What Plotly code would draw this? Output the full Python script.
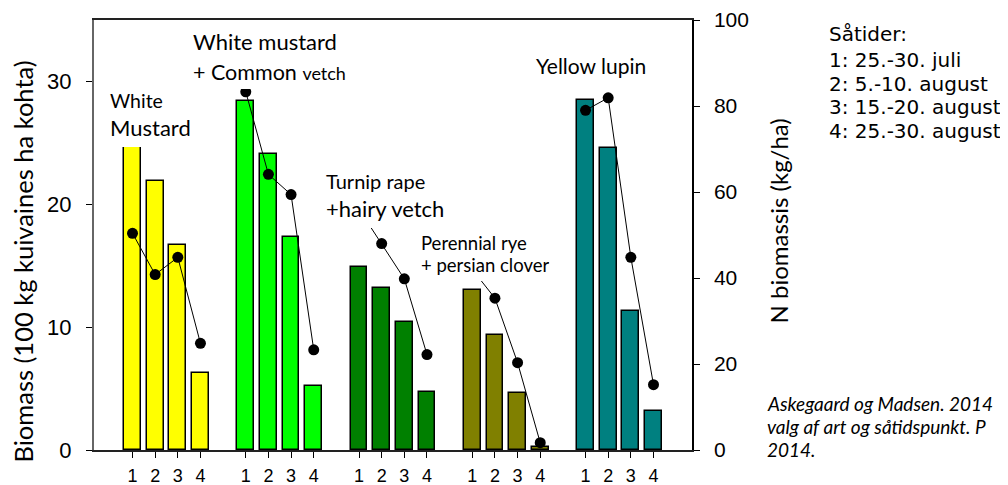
import plotly.graph_objects as go

# ---------------- data ----------------
sowing_labels = ["1", "2", "3", "4"]
group_names = ["White Mustard", "White mustard + Common vetch", "Turnip rape + hairy vetch",
               "Perennial rye + persian clover", "Yellow lupin"]
group_colors = ["#FFFF00", "#00FF00", "#008000", "#808000", "#008080"]

# biomass (100 kg kuivaines ha kohta), left axis
biomass_white_mustard = [26.0, 21.9, 16.7, 6.3]
biomass_mustard_vetch = [28.4, 24.1, 17.3, 5.2]
biomass_turnip_vetch = [14.9, 13.2, 10.4, 4.7]
biomass_rye_clover = [13.0, 9.4, 4.6, 0.25]
biomass_yellow_lupin = [28.5, 24.6, 11.3, 3.15]

# N biomassis (kg/ha), right axis
n_white_mustard = [50.4, 40.8, 44.8, 24.8]
n_mustard_vetch = [83.3, 64.1, 59.4, 23.3]
n_turnip_vetch = [56.0, 48.0, 39.8, 22.2]
n_rye_clover = [42.0, 35.3, 20.3, 1.7]
n_yellow_lupin = [79.0, 81.9, 44.8, 15.2]

biomass = [biomass_white_mustard, biomass_mustard_vetch, biomass_turnip_vetch,
           biomass_rye_clover, biomass_yellow_lupin]
nbio = [n_white_mustard, n_mustard_vetch, n_turnip_vetch, n_rye_clover, n_yellow_lupin]

# ---------------- geometry (layout only) ----------------
PAGE_OFF = 8                      # default body margin of the html page
W, H = 1008 - PAGE_OFF, 485 - PAGE_OFF
X0, X1, Y0, Y1 = 94, 692, 20, 450  # plot area in screen pixels
ML, MT = X0 - PAGE_OFF, Y0 - PAGE_OFF
MR, MB = W - (X1 - PAGE_OFF), H - (Y1 - PAGE_OFF)


def px(xp):
    return (xp - X0) / (X1 - X0)


def py(yp):
    return (Y1 - yp) / (Y1 - Y0)


LATO_ASC = 0.987
ARIAL_ASC = 0.905
DEJAVU_ASC = 0.928
ARIAL = "Liberation Sans, Arial"
LEGEND_FONT = "DejaVu Sans"


def label(text, left, baseline, size, family="Lato", asc=LATO_ASC, cover_to=None):
    top = baseline - asc * size
    a = dict(text=text, xref="paper", yref="paper", x=px(left), y=py(top),
             xanchor="left", yanchor="top", showarrow=False, align="left",
             font=dict(family=family, size=size, color="black"),
             borderpad=0, borderwidth=0)
    if cover_to is not None:
        a.update(bgcolor="white", height=cover_to - top, valign="top")
    return a


fig = go.Figure()

slot_step = len(sowing_labels) + 1
tickvals, ticktext = [], []
for g, (name, col) in enumerate(zip(group_names, group_colors)):
    xs = [g * slot_step + i for i in range(len(sowing_labels))]
    tickvals += xs
    ticktext += sowing_labels
    fig.add_trace(go.Bar(x=xs, y=biomass[g], name=name, width=0.74,
                         marker=dict(color=col, line=dict(color="black", width=1.5)),
                         showlegend=False))
for g, name in enumerate(group_names):
    xs = [g * slot_step + i for i in range(len(sowing_labels))]
    fig.add_trace(go.Scatter(x=xs, y=nbio[g], yaxis="y2", mode="lines+markers",
                             line=dict(color="black", width=1),
                             marker=dict(color="black", size=11),
                             showlegend=False, name=name + " N"))

annotations = [
    label("White", 110, 108.5, 19.5),
    label("Mustard", 110, 136, 22, cover_to=147.7),
    label("White mustard", 193, 50, 22),
    label("+ Common <span style='font-size:18px'>vetch</span>", 193, 80, 21.5, cover_to=88.3),
    label("Turnip rape", 326, 188.5, 20),
    label("+hairy vetch", 326, 216.5, 22, cover_to=228),
    label("+ persian clover", 421, 272.7, 18.5, cover_to=281.5),
    label("Perennial rye", 421, 250.5, 18.5),
    label("Yellow lupin", 536, 74, 21),
    # sowing times legend
    label("Såtider:", 829, 40.7, 20, family=LEGEND_FONT, asc=DEJAVU_ASC),
    label("1: 25.-30. juli", 829, 66.7, 20, family=LEGEND_FONT, asc=DEJAVU_ASC),
    label("2: 5.-10. august", 829, 90.2, 20, family=LEGEND_FONT, asc=DEJAVU_ASC),
    label("3: 15.-20. august", 829, 113.7, 20, family=LEGEND_FONT, asc=DEJAVU_ASC),
    label("4: 25.-30. august", 829, 137.2, 20, family=LEGEND_FONT, asc=DEJAVU_ASC),
    # source
    label("<i>Askegaard og Madsen. 2014</i>", 767, 410.5, 19),
    label("<i>valg af art og såtidspunkt. P</i>", 767, 433.4, 19),
    label("<i>2014.</i>", 767, 456.3, 19),
    # axis titles
    dict(text="Biomass (100 kg kuivaines ha kohta)", xref="paper", yref="paper",
         x=px(22), y=py(261.5), xanchor="center", yanchor="middle", textangle=-90,
         showarrow=False, font=dict(family="Lato", size=25.5, color="black")),
    dict(text="N biomassis (kg/ha)", xref="paper", yref="paper",
         x=px(778), y=py(220.5), xanchor="center", yanchor="middle", textangle=-90,
         showarrow=False, font=dict(family="Lato", size=24, color="black")),
]

fig.update_layout(
    width=W, height=H,
    margin=dict(l=ML, r=MR, t=MT, b=MB, pad=0, autoexpand=False),
    paper_bgcolor="white", plot_bgcolor="white",
    bargap=0, barmode="overlay",
    showlegend=False,
    annotations=annotations,
    xaxis=dict(range=[-1.7, 24.7], tickmode="array", tickvals=tickvals, ticktext=ticktext,
               ticks="outside", ticklen=6, tickwidth=1, tickcolor="black",
               showline=True, linecolor="#222", linewidth=1.5, mirror=True,
               showgrid=False, zeroline=False, ticklabelstandoff=3, automargin=False,
               tickfont=dict(family=ARIAL, size=18, color="black")),
    yaxis=dict(range=[0, 35], tickmode="array", tickvals=[0, 10, 20, 30],
               ticks="outside", ticklen=6, tickwidth=1, tickcolor="black",
               showline=True, linecolor="#666", linewidth=2, automargin=False,
               showgrid=False, zeroline=False, ticklabelstandoff=10,
               tickfont=dict(family=ARIAL, size=22, color="black")),
    yaxis2=dict(range=[0, 100], tickmode="array", tickvals=[0, 20, 40, 60, 80, 100],
                overlaying="y", side="right", anchor="x", automargin=False,
                ticks="outside", ticklen=6, tickwidth=1, tickcolor="black",
                showline=True, linecolor="black", linewidth=1.5,
                showgrid=False, zeroline=False, ticklabelstandoff=10,
                tickfont=dict(family=ARIAL, size=21, color="black")),
)

fig.write_html("out.html")
